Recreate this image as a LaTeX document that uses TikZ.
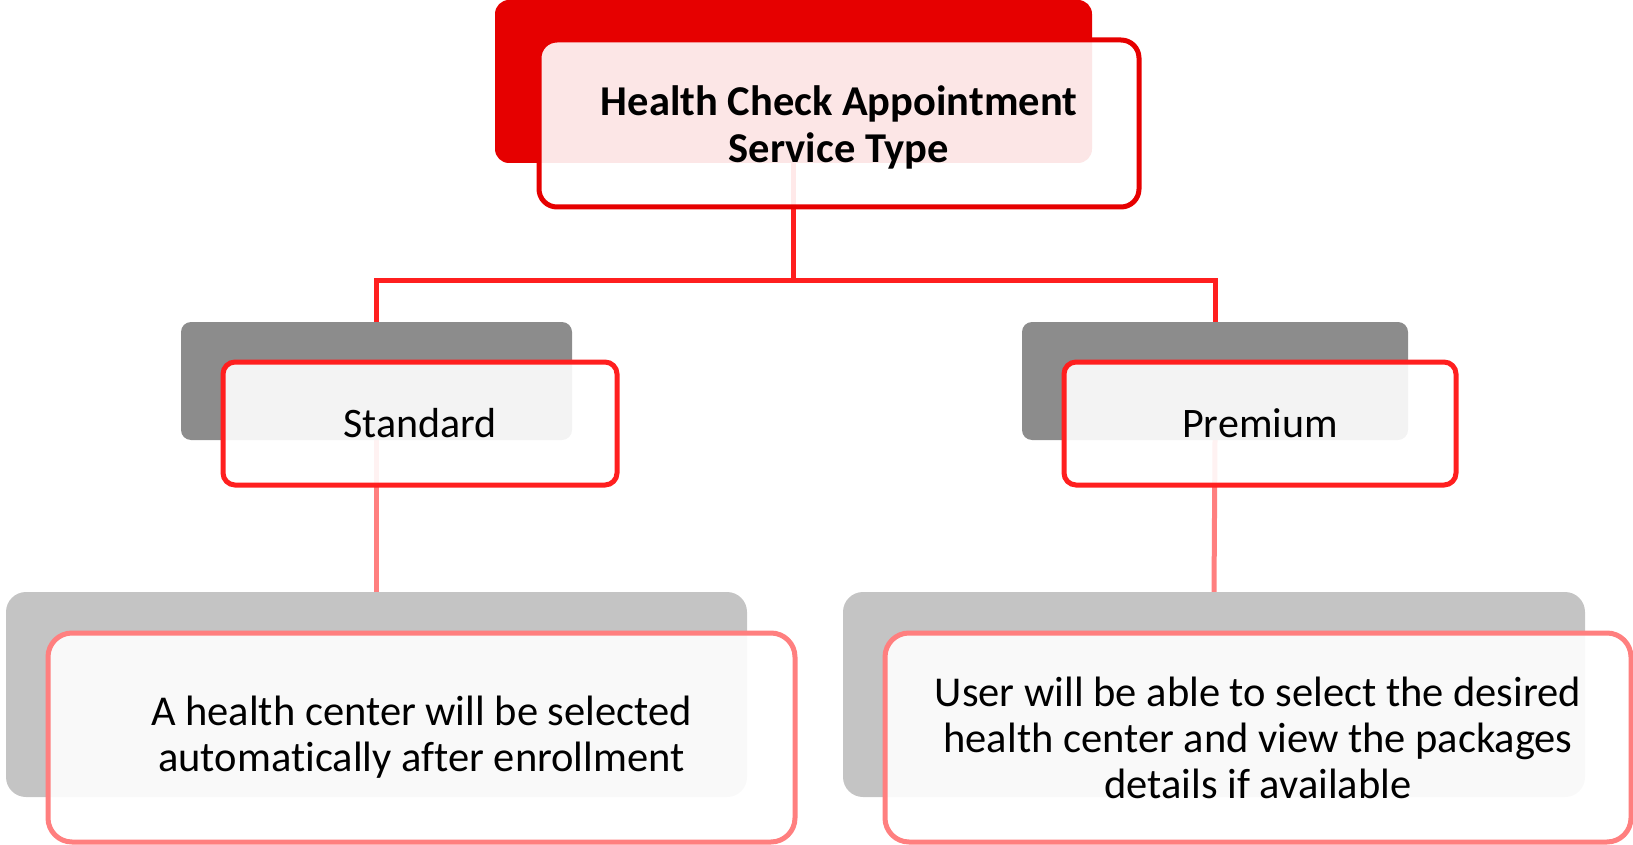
\documentclass[tikz,border=0pt]{standalone}
\usepackage{fontspec}
\setmainfont[Ligatures=NoCommon]{Carlito}
\definecolor{topred}{HTML}{E60000}
\definecolor{midred}{HTML}{FF1F1F}
\definecolor{lowred}{HTML}{FF7F7F}
\definecolor{midgray}{HTML}{8C8C8C}
\definecolor{lowgray}{HTML}{C4C4C4}
\pgfdeclarelayer{background}
\pgfsetlayers{background,main}

\begin{document}
\begin{tikzpicture}[x=1pt, y=-1pt, line width=5pt,
		back/.style={rectangle, inner sep=0pt, outer sep=0pt, rounded corners=14pt},
		front/.style={rectangle, inner sep=0pt, outer sep=0pt, rounded corners=18pt, fill=white, fill opacity=0.9, text opacity=1, align=center},
		upline/.style={draw=midred, line width=5pt},
		lowline/.style={draw=lowred, line width=5pt}]
		\useasboundingbox (0,0) rectangle (1633,845);
		
		\node[back, fill=topred, minimum width=597pt, minimum height=163pt] (hcs) at (793.5,81.5) {};
		\node[front, draw=topred, minimum width=600pt, minimum height=167pt, font=\bfseries\fontsize{42.5}{47}\selectfont] (hcsbox) at ([shift={(45.5,42)}]hcs.center) {\rule{0pt}{38pt}Health Check Appointment\\Service Type};
		
		\node[back, fill=midgray, rounded corners=10pt, minimum width=391pt, minimum height=118pt] (std) at (376.5,381) {};
		\node[front, draw=midred, rounded corners=12pt, minimum width=394pt, minimum height=123pt, font=\fontsize{42}{50}\selectfont] (stdbox) at ([shift={(43.5,42.5)}]std.center) {Standard};
		\node[back, fill=midgray, rounded corners=10pt, minimum width=386pt, minimum height=118pt] (prem) at (1215,381) {};
		\node[front, draw=midred, rounded corners=12pt, minimum width=392pt, minimum height=123pt, font=\fontsize{42}{50}\selectfont] (prembox) at ([shift={(45,42.5)}]prem.center) {Premium};
		
		\node[back, fill=lowgray, rounded corners=20pt, minimum width=741pt, minimum height=205pt] (stdinfo) at (376.5,694.5) {};
		\node[front, draw=lowred, rounded corners=24pt, minimum width=747pt, minimum height=209pt, font=\fontsize{42.5}{46}\selectfont] (stdinfobox) at ([shift={(45,43)}]stdinfo.center) {A health center will be selected\\automatically after enrollment};
		\node[back, fill=lowgray, rounded corners=20pt, minimum width=742pt, minimum height=205pt] (preminfo) at (1214,694.5) {};
		\node[front, draw=lowred, rounded corners=24pt, minimum width=746pt, minimum height=209pt, font=\fontsize{42.5}{46}\selectfont] (preminfobox) at ([shift={(44,43)}]preminfo.center) {User will be able to select the desired\\health center and view the packages\\details if available};
		
		\coordinate (bus) at (0,280);
		\begin{pgfonlayer}{background}
			\draw[upline] (hcs.south) -- (hcs.south |- bus) -| (std.north);
			\draw[upline] (hcs.south |- bus) -| (prem.north);
			\draw[lowline] (std.south) -- (stdinfo.north);
			\draw[lowline] (prem.south) -- (preminfo.north);
		\end{pgfonlayer}
	\end{tikzpicture}
\end{document}
